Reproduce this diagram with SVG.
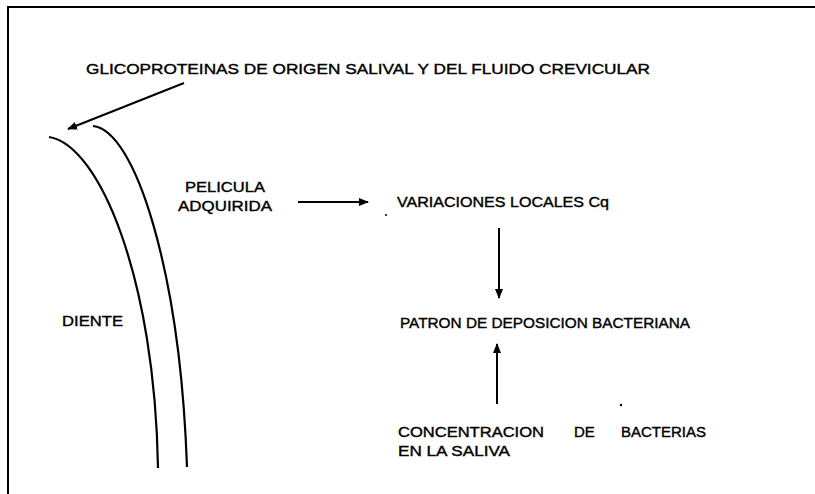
<svg xmlns="http://www.w3.org/2000/svg" width="815" height="494" viewBox="0 0 815 494">
<style>
text{font-family:"Liberation Sans",Arial,sans-serif;font-size:15px;fill:#000;stroke:#000;stroke-width:0.4}
.ln{fill:none;stroke:#000;stroke-width:2}
.cv{fill:none;stroke:#000;stroke-width:2.2}
</style>
<defs>
<marker id="ah" markerWidth="10" markerHeight="8" refX="9" refY="4" orient="auto" markerUnits="userSpaceOnUse">
<path d="M0,0 L10,4 L0,8 Z" fill="#000"/>
</marker>
</defs>
<rect width="815" height="494" fill="#fff"/>
<g id="frame">
<polyline points="8,494 8,7 815,7" fill="none" stroke="#000" stroke-width="2"/>
</g>
<g id="diente-curves">
<path class="cv" d="M49,137 C100,145 155,280 158,468"/>
<path class="cv" d="M93,126 C135,130 180,270 187,467"/>
</g>
<g id="glicoproteinas"><text x="86" y="74" textLength="564" lengthAdjust="spacingAndGlyphs">GLICOPROTEINAS DE ORIGEN SALIVAL Y DEL FLUIDO CREVICULAR</text></g>
<g id="pelicula">
<text x="185" y="192" textLength="80" lengthAdjust="spacingAndGlyphs">PELICULA</text>
<text x="178" y="211" textLength="94" lengthAdjust="spacingAndGlyphs">ADQUIRIDA</text>
</g>
<g id="diente"><text x="62" y="326" textLength="61" lengthAdjust="spacingAndGlyphs">DIENTE</text></g>
<g id="variaciones"><text x="397" y="207" textLength="212" lengthAdjust="spacingAndGlyphs">VARIACIONES LOCALES Cq</text></g>
<g id="patron"><text x="400" y="328" textLength="290" lengthAdjust="spacingAndGlyphs">PATRON DE DEPOSICION BACTERIANA</text></g>
<g id="concentracion">
<text x="398" y="437"><tspan textLength="146" lengthAdjust="spacingAndGlyphs">CONCENTRACION</tspan><tspan x="574">DE</tspan><tspan x="621" textLength="85" lengthAdjust="spacingAndGlyphs">BACTERIAS</tspan></text>
<text x="398" y="456" textLength="112" lengthAdjust="spacingAndGlyphs">EN LA SALIVA</text>
</g>
<g id="connectors">
<line class="ln" x1="184" y1="83" x2="68" y2="129" marker-end="url(#ah)"/>
<line class="ln" x1="298" y1="202" x2="368" y2="202" marker-end="url(#ah)"/>
<line class="ln" x1="499" y1="228" x2="499" y2="298" marker-end="url(#ah)"/>
<line class="ln" x1="497" y1="404" x2="497" y2="344" marker-end="url(#ah)"/>
</g>
<circle cx="386" cy="215" r="1" fill="#000"/>
<circle cx="621" cy="405" r="1.2" fill="#000"/>
</svg>
